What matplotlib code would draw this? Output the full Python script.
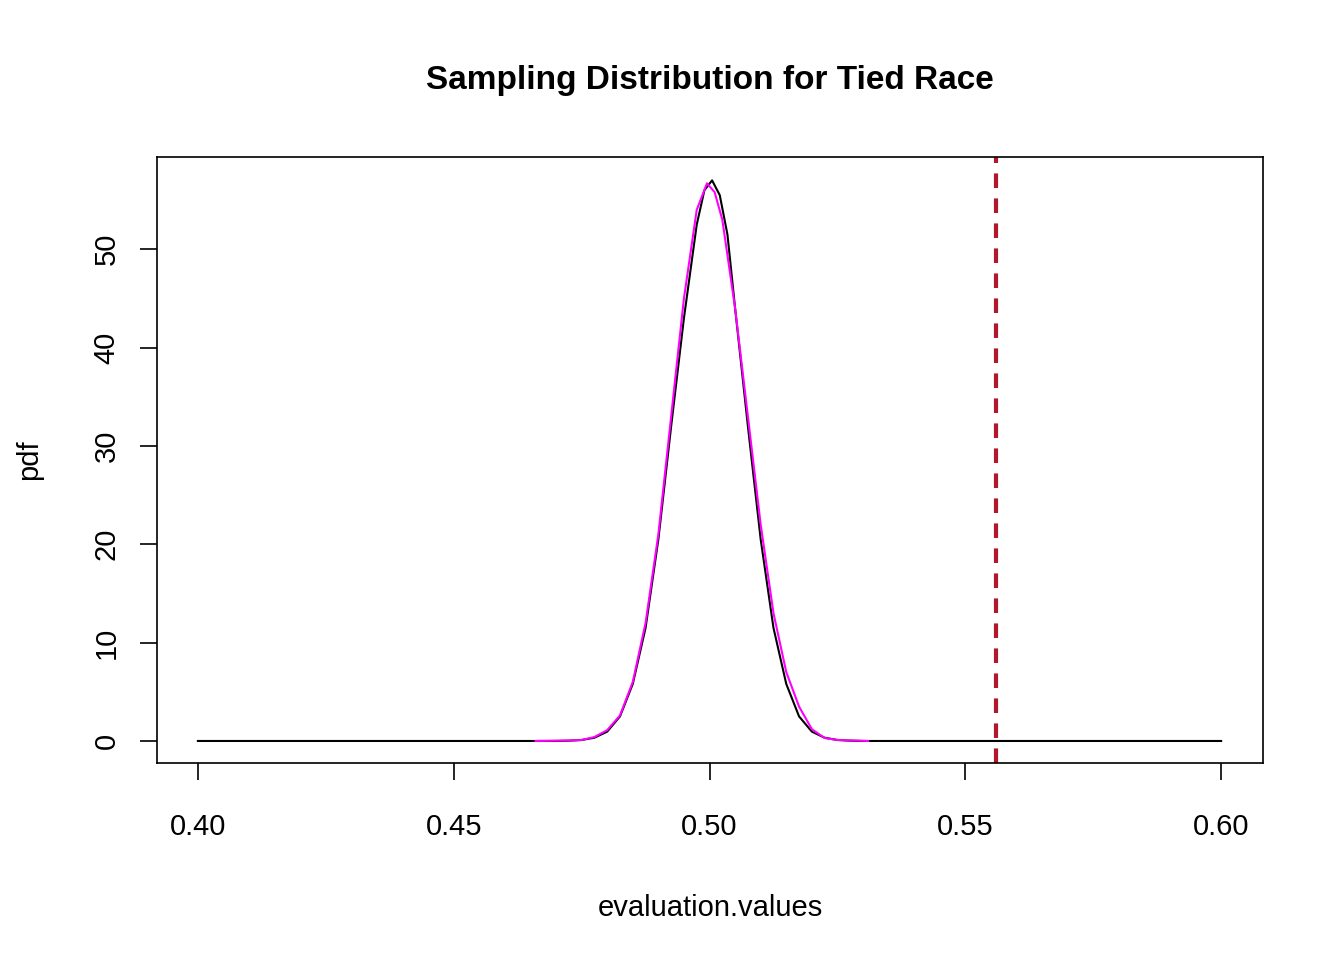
import matplotlib
matplotlib.use("Agg")
import matplotlib.pyplot as plt

plt.rcParams['font.family'] = ['Liberation Sans', 'DejaVu Sans']

# black curve (theoretical density)
x_black = [0.400, 0.470, 0.4725, 0.475, 0.4775, 0.480, 0.4825, 0.485, 0.4875, 0.490,
           0.4925, 0.495, 0.4975, 0.499, 0.5005, 0.502, 0.5035, 0.505, 0.5075, 0.510, 0.5125,
           0.515, 0.5175, 0.520, 0.5225, 0.525, 0.5275, 0.530, 0.600]
y_black = [0, 0, 0.03, 0.1, 0.33, 0.95, 2.5, 5.8, 11.5, 20.5,
           32, 43, 52.5, 56, 57, 55.5, 51.5, 44, 32, 20.5, 11.5,
           5.8, 2.5, 0.95, 0.33, 0.1, 0.03, 0, 0]

# magenta curve (simulated density)
x_mag = [0.466, 0.4725, 0.475, 0.4775, 0.480, 0.4825, 0.485, 0.4875, 0.490, 0.4925,
         0.495, 0.4975, 0.4995, 0.501, 0.5025, 0.505, 0.5075, 0.510, 0.5125, 0.515,
         0.5175, 0.520, 0.5225, 0.525, 0.531]
y_mag = [0, 0.05, 0.1, 0.4, 1.1, 2.6, 6, 12, 21, 33,
         45, 54, 56.7, 55.8, 53, 44, 33, 22, 13, 7,
         3.5, 1.2, 0.3, 0.1, 0]

observed = 0.556

fig = plt.figure(figsize=(13.44, 9.6), dpi=100)
ax = fig.add_axes([0.1168, 0.2052, 0.823, 0.631])
ax.plot(x_black, y_black, color='black', lw=1.5)
ax.plot(x_mag, y_mag, color='#FF00FF', lw=1.5)
ax.axvline(observed, color='#B2182B', lw=3, ls=(0, (3.5, 2.5)))

ax.set_xlim(0.392, 0.6082)
ax.set_ylim(-2.24, 59.35)
ax.set_xticks([0.40, 0.45, 0.50, 0.55, 0.60])
ax.set_xticklabels(['0.40', '0.45', '0.50', '0.55', '0.60'])
ax.set_yticks([0, 10, 20, 30, 40, 50])
ax.tick_params(labelsize=21, length=12, width=1.2)
ax.tick_params(axis='x', pad=24)
ax.tick_params(axis='y', pad=14)
for lab in ax.get_yticklabels():
    lab.set_rotation(90)
    lab.set_va('center')
for s in ax.spines.values():
    s.set_linewidth(1.2)

ax.set_xlabel('evaluation.values', fontsize=21, labelpad=38)
ax.set_ylabel('pdf', fontsize=21, labelpad=36)
fig.text(0.528, 0.916, 'Sampling Distribution for Tied Race', ha='center', va='center',
         fontsize=24, fontweight='bold')

fig.savefig('out.png', dpi=100)
